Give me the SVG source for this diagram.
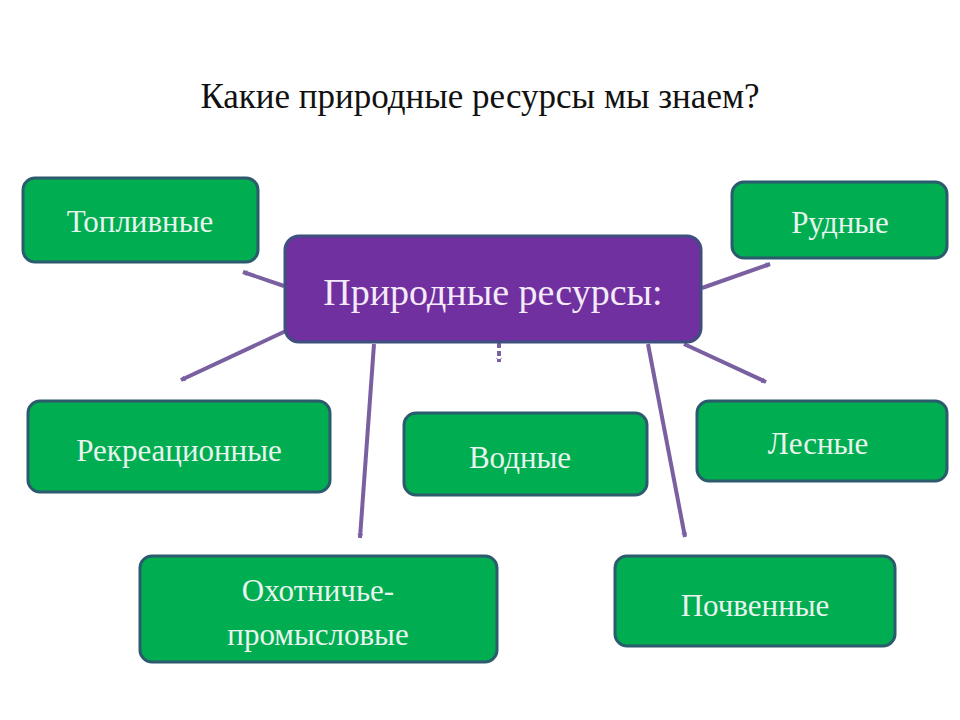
<svg xmlns="http://www.w3.org/2000/svg" width="960" height="720" viewBox="0 0 960 720">
<defs>
<style>
text{font-family:"Liberation Serif","Times New Roman",serif;text-anchor:middle}
.g{fill:#00ad50;stroke:#2b5b6c;stroke-width:3}
.gt{fill:#e8f4ee;font-size:31px}
.c{stroke:#7a60a0;stroke-width:4;fill:none;marker-end:url(#a)}
</style>
<marker id="a" viewBox="0 0 12 12" refX="10" refY="6" markerWidth="5" markerHeight="5" orient="auto" markerUnits="userSpaceOnUse" style="overflow:visible">
<path d="M0,0 L10,6 L0,12" fill="none" stroke="#7a60a0" stroke-width="2"/>
</marker>
</defs>
<rect width="960" height="720" fill="#fff"/>
<text x="480" y="108" font-size="35" fill="#111">Какие природные ресурсы мы знаем?</text>
<g id="connectors">
<line class="c" x1="284" y1="286" x2="243" y2="272"/>
<line class="c" x1="288" y1="330" x2="181" y2="380"/>
<line class="c" x1="499" y1="343" x2="499" y2="362" stroke-dasharray="5,3"/>
<line class="c" x1="374" y1="344" x2="360" y2="538"/>
<line class="c" x1="702" y1="288" x2="770" y2="264"/>
<line class="c" x1="684" y1="344" x2="766" y2="382"/>
<line class="c" x1="648" y1="344" x2="685" y2="537"/>
</g>
<g id="center"><rect x="285" y="236" width="416" height="106" rx="14" fill="#7030a0" stroke="#3f4f7f" stroke-width="3"/><text x="493" y="305" font-size="38" fill="#f4eaf8">Природные ресурсы:</text></g>
<g id="n1"><rect class="g" x="23" y="178" width="235" height="84" rx="12"/><text class="gt" x="140" y="232">Топливные</text></g>
<g id="n2"><rect class="g" x="732" y="182" width="215" height="76" rx="12"/><text class="gt" x="840" y="233">Рудные</text></g>
<g id="n3"><rect class="g" x="28" y="401" width="302" height="91" rx="12"/><text class="gt" x="179" y="461">Рекреационные</text></g>
<g id="n4"><rect class="g" x="404" y="413" width="243" height="82" rx="12"/><text class="gt" x="520" y="468">Водные</text></g>
<g id="n5"><rect class="g" x="697" y="401" width="250" height="80" rx="12"/><text class="gt" x="818" y="454">Лесные</text></g>
<g id="n6"><rect class="g" x="140" y="556" width="357" height="106" rx="12"/><text class="gt" x="318" y="601">Охотничье-</text><text class="gt" x="318" y="645">промысловые</text></g>
<g id="n7"><rect class="g" x="615" y="556" width="280" height="90" rx="12"/><text class="gt" x="755" y="616">Почвенные</text></g>
</svg>
